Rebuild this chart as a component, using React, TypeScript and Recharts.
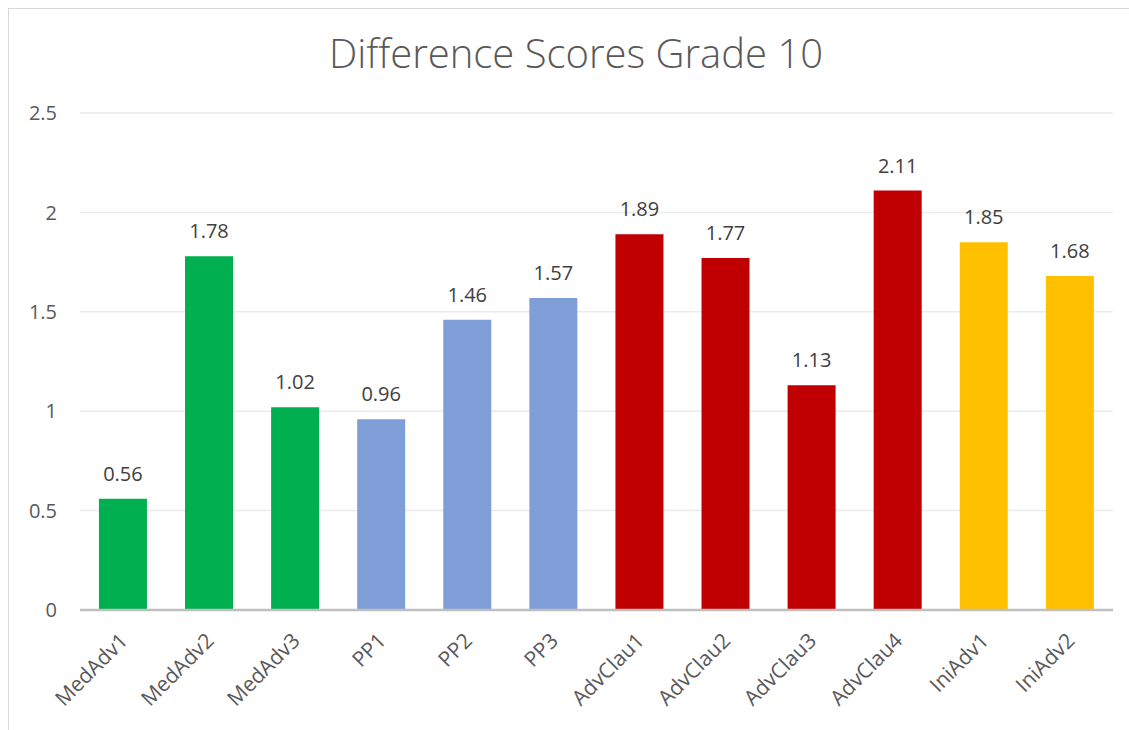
import { Bar, BarChart, CartesianGrid, Cell, LabelList, XAxis, YAxis } from "recharts";

const categories = [
  "MedAdv1", "MedAdv2", "MedAdv3", "PP1", "PP2", "PP3",
  "AdvClau1", "AdvClau2", "AdvClau3", "AdvClau4", "IniAdv1", "IniAdv2",
];
const scores = [0.56, 1.78, 1.02, 0.96, 1.46, 1.57, 1.89, 1.77, 1.13, 2.11, 1.85, 1.68];
const barColors = [
  "#00B050", "#00B050", "#00B050",
  "#7F9ED7", "#7F9ED7", "#7F9ED7",
  "#C00000", "#C00000", "#C00000", "#C00000",
  "#FFC000", "#FFC000",
];
const yTicks = [0, 0.5, 1, 1.5, 2, 2.5];
const title = "Difference Scores Grade 10";

const rows = categories.map((name, i) => ({ name, score: scores[i] }));

const FONT = "'Open Sans', 'Noto Sans', sans-serif";

function AngledTick(props: any) {
  const { x, y, payload } = props;
  return (
    <text
      transform={`translate(${x + 6}, ${y + 32}) rotate(-45)`}
      textAnchor="end"
      fill="#595959"
      fontSize={21}
      fontFamily={FONT}
    >
      {payload.value}
    </text>
  );
}

export default function App() {
  return (
    <div
      style={{
        position: "fixed",
        left: 8,
        top: 8,
        width: 1121,
        height: 722,
        overflow: "hidden",
        borderTop: "1px solid #d9d9d9",
        borderLeft: "1px solid #d9d9d9",
        boxSizing: "border-box",
        background: "#fff",
      }}
    >
      <svg width={1120} height={100} style={{ position: "absolute", left: 0, top: 0 }}>
        <text
          x={567}
          y={59}
          textAnchor="middle"
          fill="#595959"
          fontSize={40}
          fontWeight={300}
          fontFamily={FONT}
        >
          {title}
        </text>
      </svg>
      <BarChart
        width={1120}
        height={713}
        data={rows}
        margin={{ top: 104, right: 16, bottom: 0, left: 0 }}
        barCategoryGap="22%"
      >
        <CartesianGrid vertical={false} stroke="#EBEBEB" strokeWidth={1.5} />
        <XAxis
          dataKey="name"
          interval={0}
          height={112}
          tickLine={false}
          tickSize={0}
          tickMargin={0}
          axisLine={{ stroke: "#BFBFBF", strokeWidth: 2.5 }}
          tick={<AngledTick />}
        />
        <YAxis
          domain={[0, 2.5]}
          ticks={yTicks}
          width={71}
          axisLine={false}
          tickLine={false}
          tickSize={0}
          tickMargin={23}
          tick={{ fill: "#595959", fontSize: 20, fontFamily: FONT }}
        />
        <Bar dataKey="score" isAnimationActive={false}>
          {rows.map((r, i) => (
            <Cell key={r.name} fill={barColors[i]} />
          ))}
          <LabelList
            dataKey="score"
            position="top"
            offset={18}
            fill="#404040"
            fontSize={20}
            fontFamily={FONT}
          />
        </Bar>
      </BarChart>
    </div>
  );
}
